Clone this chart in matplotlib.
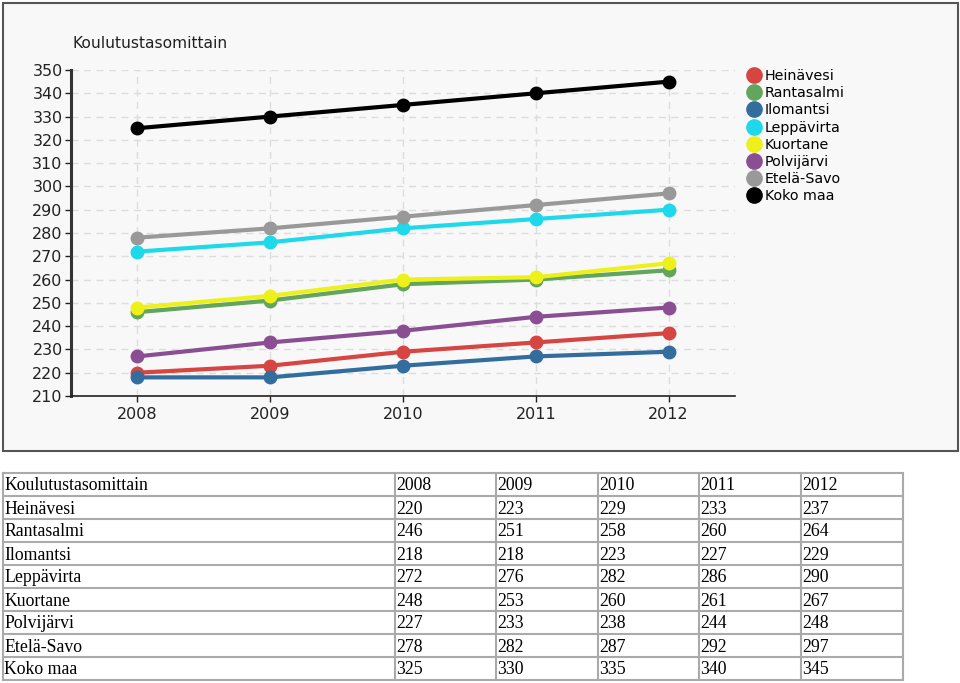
import matplotlib
matplotlib.use('Agg')
import matplotlib.pyplot as plt
from matplotlib.patches import Rectangle
from matplotlib.lines import Line2D

# --------------------------------------------------------------------------------------
# Data

title     = 'Koulutustasomittain'
years     = [2008, 2009, 2010, 2011, 2012]
names     = ['Heinävesi', 'Rantasalmi', 'Ilomantsi', 'Leppävirta',
             'Kuortane', 'Polvijärvi', 'Etelä-Savo', 'Koko maa']

heinavesi  = [220, 223, 229, 233, 237]
rantasalmi = [246, 251, 258, 260, 264]
ilomantsi  = [218, 218, 223, 227, 229]
leppavirta = [272, 276, 282, 286, 290]
kuortane   = [248, 253, 260, 261, 267]
polvijarvi = [227, 233, 238, 244, 248]
etelasavo  = [278, 282, 287, 292, 297]
kokomaa    = [325, 330, 335, 340, 345]

series = [heinavesi, rantasalmi, ilomantsi, leppavirta,
          kuortane, polvijarvi, etelasavo, kokomaa]
colors = ['#d64541', '#62a55c', '#336d9e', '#1fd8ea',
          '#eef019', '#8a4f93', '#999999', '#000000']

yticks = list(range(210, 351, 10))

# --------------------------------------------------------------------------------------
# Figure

W, H = 960, 683
fig = plt.figure(figsize=(W / 100, H / 100), dpi=100)
fig.patch.set_facecolor('white')

# background layer in pixel coords
bg = fig.add_axes([0, 0, 1, 1])
bg.set_xlim(0, W)
bg.set_ylim(H, 0)
bg.axis('off')
bg.add_patch(Rectangle((3, 3), 955, 448, facecolor='#f8f8f8', edgecolor='#555555', lw=1.5))
bg.text(72, 43, title, fontsize=11.2, family='DejaVu Sans', va='center', ha='left', color='#222222')

# --------------------------------------------------------------------------------------
# Chart

ax = fig.add_axes([71 / W, 1 - 396 / H, 664 / W, 326 / H])
ax.set_facecolor('none')
for s, c in zip(series, colors):
    ax.plot(years, s, color=c, lw=3, marker='o', ms=9, solid_capstyle='round', zorder=3)

ax.set_xlim(2007.5, 2012.5)
ax.set_ylim(210, 350)
ax.set_xticks(years)
ax.set_yticks(yticks)
ax.grid(True, color='#dddddd', linestyle=(0, (5, 4)), lw=1)
ax.spines['top'].set_visible(False)
ax.spines['right'].set_visible(False)
ax.spines['left'].set_color('#333333')
ax.spines['left'].set_linewidth(2.2)
ax.spines['bottom'].set_color('#222222')
ax.spines['bottom'].set_linewidth(1.2)
ax.tick_params(axis='both', labelsize=11.5, colors='#222222', length=4, width=1, pad=2)
ax.tick_params(axis='x', pad=4)

# legend
handles = [Line2D([], [], color=c, marker='o', ls='none', ms=11) for c in colors]
leg = fig.legend(handles, names, loc='upper left', bbox_to_anchor=(741 / W, 1 - 62 / H),
                 frameon=False, fontsize=10.3, handlelength=0.8, handletextpad=0.35,
                 labelspacing=0.22, borderpad=0)

# --------------------------------------------------------------------------------------
# Table

colx  = [3, 395, 496, 598, 699, 801, 903]
top   = 473
rowh  = 23.0
nrows = len(names) + 1

for i in range(nrows + 1):
    y = top + i * rowh
    bg.plot([colx[0], colx[-1]], [y, y], color='#aaaaaa', lw=1.5)
for x in colx:
    bg.plot([x, x], [top, top + nrows * rowh], color='#aaaaaa', lw=1.5)

rows = [[title] + [str(v) for v in years]]
for n, s in zip(names, series):
    rows.append([n] + [str(v) for v in s])

for i, r in enumerate(rows):
    yc = top + (i + 0.5) * rowh + 1.5
    for j, txt in enumerate(r):
        bg.text(colx[j] + 1, yc, txt, fontsize=12.8, family='Liberation Serif',
                va='center', ha='left', color='black')

fig.savefig('out.png', dpi=100)
